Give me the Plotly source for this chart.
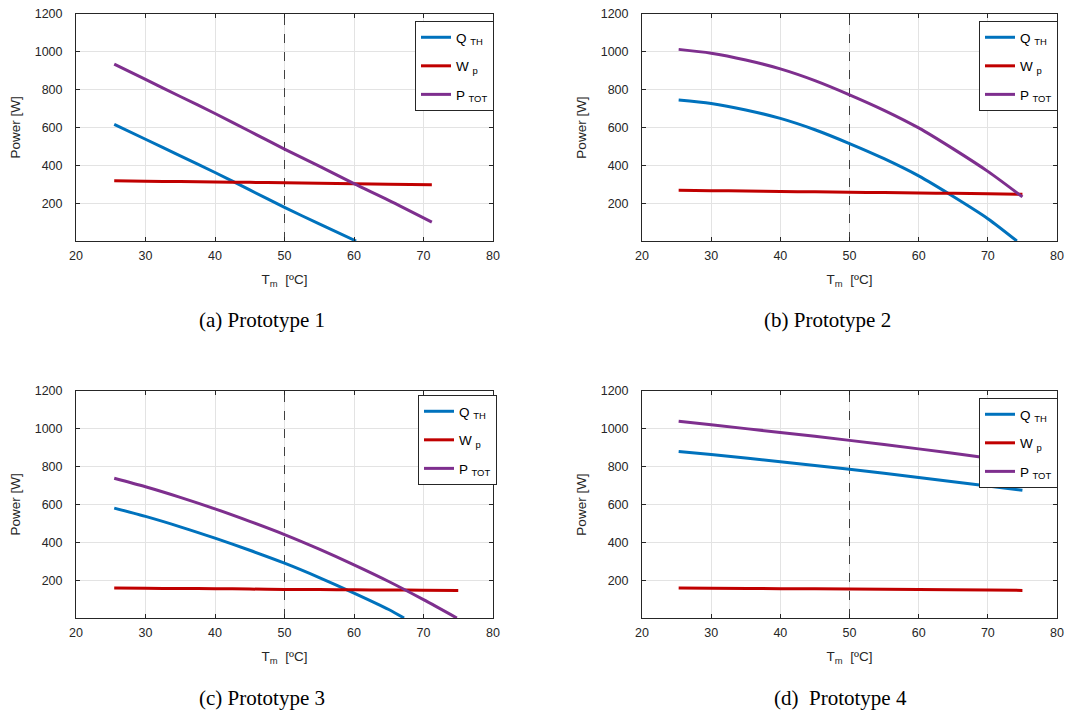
import plotly.graph_objects as go

# ---------------- data ----------------
# Prototype 1
Ta_q = [25.5, 30, 35, 40, 45, 50, 55, 60.3]
Qa = [617, 538, 450, 362, 270, 178, 90, 0]
Ta = [25.5, 30, 35, 40, 45, 50, 55, 60, 65, 71.2]
Wa = [318, 316, 314, 312, 310, 308, 305, 302, 300, 297]
Pa = [935, 854, 764, 674, 580, 486, 396, 303, 215, 100]

# Prototype 2
Tb_q = [25.3, 30, 35, 40, 45, 50, 55, 60, 65, 70, 74.2]
Qb = [745, 727, 693, 648, 588, 515, 435, 344, 235, 118, 0]
Tb = [25.3, 30, 35, 40, 45, 50, 55, 60, 65, 70, 75]
Wb = [268, 266, 264, 262, 260, 258, 256, 254, 252, 250, 247]
Pb = [1013, 993, 957, 910, 848, 773, 691, 598, 487, 368, 233]

# Prototype 3
Tc_q = [25.5, 30, 35, 40, 45, 50, 55, 60, 65, 67.2]
Qc = [581, 537, 482, 422, 358, 290, 214, 132, 45, 0]
Tc_p = [25.5, 30, 35, 40, 45, 50, 55, 60, 65, 70, 74.8]
Pc = [739, 694, 638, 577, 511, 441, 364, 281, 193, 97, 0]
Tc_w = [25.5, 30, 35, 40, 45, 50, 55, 60, 65, 70, 75]
Wc = [158, 157, 156, 155, 153, 151, 150, 149, 148, 147, 146]

# Prototype 4
Td = [25.3, 30, 40, 50, 60, 70, 75]
Qd = [880, 864, 826, 786, 743, 698, 675]
Wd = [158, 157, 155, 153, 151, 148, 146]
Pd = [1040, 1021, 981, 939, 894, 846, 821]

captions = ["(a) Prototype 1", "(b) Prototype 2", "(c) Prototype 3", "(d)  Prototype 4"]
names = ["Q <sub>TH</sub>", "W <sub>p</sub>", "P <sub>TOT</sub>"]
colors = ["#0072BD", "#C00000", "#7E2F8E"]

x_ticks = [20, 30, 40, 50, 60, 70, 80]
y_ticks = [200, 400, 600, 800, 1000, 1200]
y_range = [0, 1200]
ref_T = 50

panels = [
    [(Ta_q, Qa), (Ta, Wa), (Ta, Pa)],
    [(Tb_q, Qb), (Tb, Wb), (Tb, Pb)],
    [(Tc_q, Qc), (Tc_w, Wc), (Tc_p, Pc)],
    [(Td, Qd), (Td, Wd), (Td, Pd)],
]

# ---------------- layout geometry (pixels) ----------------
W, H = 1066, 715
xdoms_px = [(76, 493), (642, 1057), (76, 493), (642, 1057)]
ydoms_px = [(14, 241), (14, 241), (391, 618), (391, 618)]
legend_px = [(415, 21), (979, 21), (418, 395), (979, 398)]
caption_px = [(262, 320), (827, 320), (262, 698), (840, 698)]

fig = go.Figure()
font_family = "Liberation Sans, Arial, sans-serif"
dark = "#262626"

layout = dict(
    width=W, height=H, margin=dict(l=0, r=0, t=0, b=0, autoexpand=False),
    paper_bgcolor="white", plot_bgcolor="white",
    font=dict(family=font_family, color=dark, size=12),
    showlegend=True,
)
annotations = []

for i, series in enumerate(panels):
    k = "" if i == 0 else str(i + 1)
    xa, ya = "x" + k, "y" + k
    leg = "legend" + k
    # dashed reference line at T = 50 ºC (drawn first, above the grid, below the curves)
    fig.add_trace(go.Scatter(
        x=[ref_T, ref_T], y=y_range, mode="lines", showlegend=False, hoverinfo="skip",
        line=dict(color="#404040", width=1, dash="dash"), xaxis=xa, yaxis=ya,
    ))
    for j, ((xs, ys), nm, col) in enumerate(zip(series, names, colors)):
        fig.add_trace(go.Scatter(
            x=xs, y=ys, mode="lines", name=nm,
            line=dict(color=col, width=3, shape="spline", smoothing=0.8),
            xaxis=xa, yaxis=ya, legend=leg, legendgroup=f"g{i}_{j}",
        ))
    x0, x1 = xdoms_px[i]
    yt, yb = ydoms_px[i]
    layout["xaxis" + k] = dict(
        domain=[x0 / W, x1 / W], anchor=ya, range=[20, 80], automargin=False,
        tickvals=x_ticks, ticks="inside", ticklen=4, tickcolor=dark,
        showline=True, linecolor=dark, linewidth=1, mirror="ticks",
        showgrid=True, gridcolor="#E3E3E3", gridwidth=1, zeroline=False,
        tickfont=dict(size=12.5, color=dark), ticklabelstandoff=3,
        title=dict(text="T<sub>m</sub>  [ºC]", font=dict(size=13.5, color=dark), standoff=12),
    )
    layout["yaxis" + k] = dict(
        domain=[1 - yb / H, 1 - yt / H], anchor=xa, range=y_range, automargin=False,
        tickvals=y_ticks, ticks="inside", ticklen=4, tickcolor=dark,
        showline=True, linecolor=dark, linewidth=1, mirror="ticks",
        showgrid=True, gridcolor="#E3E3E3", gridwidth=1, zeroline=False,
        tickfont=dict(size=12.5, color=dark), ticklabelstandoff=10,
        title=dict(text="Power [W]", font=dict(size=13.5, color=dark), standoff=10),
    )
    lx, ly = legend_px[i]
    layout[leg] = dict(
        x=lx / W, y=1 - ly / H, xanchor="left", yanchor="top",
        xref="paper", yref="paper",
        bgcolor="white", bordercolor=dark, borderwidth=1,
        font=dict(size=13.5, color="#000000", family=font_family),
        tracegroupgap=8, itemwidth=30,
    )
    cx, cy = caption_px[i]
    annotations.append(dict(
        text=captions[i], x=cx / W, y=1 - cy / H, xref="paper", yref="paper",
        showarrow=False, xanchor="center", yanchor="middle",
        font=dict(family="Liberation Serif, Times New Roman, serif", size=21, color="black"),
    ))

layout["annotations"] = annotations
fig.update_layout(**layout)
fig.write_html("out.html", config={"displayModeBar": False},
               post_script="document.body.style.margin='0';")
